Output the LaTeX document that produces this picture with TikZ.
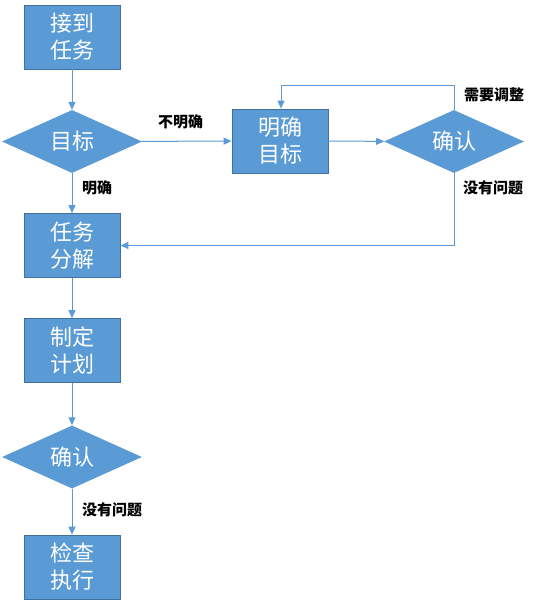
\documentclass[tikz,border=0pt]{standalone}
\usepackage{fontspec}
\newfontfamily\cjk{Noto Sans CJK SC}
\usetikzlibrary{shapes.geometric,arrows.meta}
\definecolor{fillblue}{HTML}{5B9BD5}
\definecolor{edgeblue}{HTML}{41719C}
\begin{document}
\begin{tikzpicture}[x=1pt,y=-1pt,
  stepbox/.style={draw=edgeblue,line width=0.8pt,fill=fillblue,minimum width=96pt,minimum height=64pt,inner sep=0pt,text=white,font=\cjk\fontsize{22}{27}\selectfont,align=center},
  decide/.style={diamond,draw=none,fill=fillblue,minimum width=140pt,minimum height=63pt,inner sep=0pt,aspect=2.2,text=white,font=\cjk\fontsize{22}{27}\selectfont},
  link/.style={draw=fillblue,line width=1pt,-{Triangle[width=7pt,length=8pt]}},
  lab/.style={font=\cjk\bfseries\fontsize{15}{17}\selectfont,text=black,inner sep=0pt}]
\useasboundingbox (0,0) rectangle (539,611);
\node[stepbox] (n1) at (72,37) {接到\\任务};
\node[decide] (d1) at (72,141.5) {目标};
\node[stepbox] (n2) at (72,245.5) {任务\\分解};
\node[stepbox] (m) at (280,141) {明确\\目标};
\node[decide] (d2) at (454,141.5) {确认};
\node[stepbox] (n3) at (72,350.5) {制定\\计划};
\node[decide] (d3) at (72,457) {确认};
\node[stepbox] (n4) at (72,567) {检查\\执行};
\coordinate (c1) at (454,85);
\coordinate (c2) at (281,85);
\coordinate (c3) at (454,245.5);
\draw[link] (n1) -- (d1);
\draw[link] (d1) -- (n2);
\draw[link] (d1) -- (m);
\draw[link] (m) -- (d2);
\draw[link] (d2.north) -- (c1) -- (c2) -- (m.north -| c2);
\draw[link] (d2.south) -- (c3) -- (n2.east);
\draw[link] (n2) -- (n3);
\draw[link] (n3) -- (d3);
\draw[link] (d3) -- (n4);
\node[lab,anchor=west] (l1) at (158,122) {不明确};
\node[lab,anchor=west] (l2) at (82,188) {明确};
\node[lab,anchor=west] (l3) at (464,95) {需要调整};
\node[lab,anchor=west] (l4) at (463,188) {没有问题};
\node[lab,anchor=west] (l5) at (82,510) {没有问题};
\end{tikzpicture}
\end{document}
